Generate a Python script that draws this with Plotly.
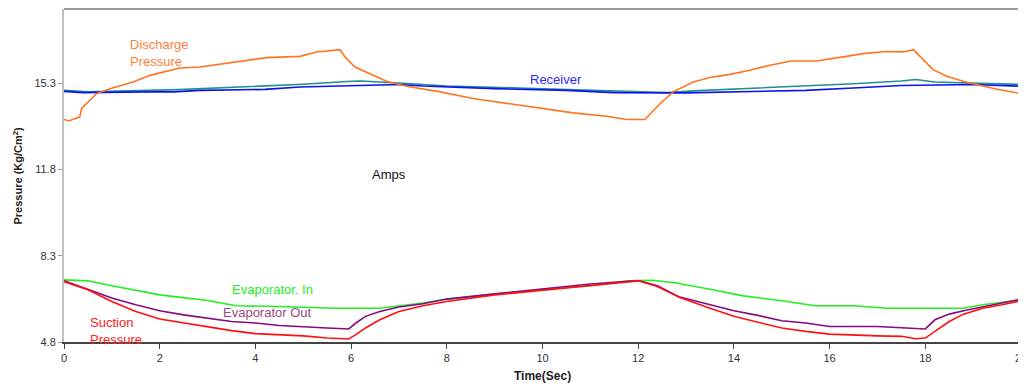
import plotly.graph_objects as go

# ---- data ----
t_discharge = [0, 0.1, 0.33, 0.37, 0.54, 0.68, 0.96, 1.44, 1.8, 2.42, 2.84, 3.54, 4.24, 4.93, 5.28, 5.77,
               5.87, 6.08, 6.39, 6.74, 7.16, 7.86, 8.55, 9.25, 9.95, 10.64, 11.34, 11.76, 12.14, 12.46,
               12.73, 13.15, 13.5, 13.92, 14.33, 14.75, 15.2, 15.72, 16.35, 16.7, 17.19, 17.54, 17.75,
               17.96, 18.16, 18.45, 18.79, 19.14, 19.5, 20]
discharge = [13.82, 13.76, 13.93, 14.28, 14.6, 14.87, 15.07, 15.34, 15.61, 15.91, 15.95, 16.15, 16.33,
             16.38, 16.56, 16.65, 16.36, 15.95, 15.68, 15.37, 15.17, 14.94, 14.67, 14.47, 14.27, 14.09,
             13.95, 13.82, 13.82, 14.47, 14.94, 15.34, 15.52, 15.65, 15.82, 16.02, 16.19, 16.19, 16.38,
             16.49, 16.58, 16.56, 16.65, 16.22, 15.84, 15.57, 15.37, 15.21, 15.05, 14.87]

t_receiver = [0, 0.4, 1.7, 2.3, 2.84, 4.2, 4.93, 5.98, 7.0, 7.5, 9.0, 10.5, 11.5, 13.0, 14.3, 15.5, 16.5,
              17.5, 19.0, 20]
receiver = [14.96, 14.91, 14.94, 14.94, 15.0, 15.04, 15.14, 15.2, 15.24, 15.18, 15.07, 15.0, 14.91, 14.9,
            14.94, 15.0, 15.1, 15.2, 15.24, 15.17]

t_teal = [0, 0.5, 2.4, 4.2, 5.0, 6.0, 6.2, 7.0, 8.0, 9.5, 11.5, 12.6, 13.15, 14.3, 15.2, 16.5, 17.5, 17.8,
          18.2, 19.3, 20]
teal = [15.0, 14.94, 15.03, 15.17, 15.25, 15.37, 15.38, 15.3, 15.18, 15.1, 14.98, 14.91, 14.98, 15.07,
        15.14, 15.27, 15.38, 15.44, 15.34, 15.27, 15.24]

t_evap_in = [0, 0.5, 1, 2, 3, 3.6, 4.5, 5.7, 6.6, 7, 7.5, 8, 9, 10, 11, 11.8, 12.3, 12.8, 13.5, 14.2, 15,
             15.7, 16.5, 17.2, 18, 18.8, 19.2, 19.5, 20]
evap_in = [7.32, 7.28, 7.08, 6.71, 6.48, 6.27, 6.24, 6.17, 6.17, 6.27, 6.38, 6.54, 6.74, 6.94, 7.08, 7.28,
           7.3, 7.19, 6.94, 6.67, 6.47, 6.27, 6.27, 6.17, 6.17, 6.17, 6.31, 6.38, 6.51]

t_evap_out = [0, 0.5, 1, 1.5, 2, 2.5, 3, 3.5, 4, 4.5, 5.5, 5.95, 6.1, 6.3, 6.6, 7, 7.5, 8, 9, 10, 11, 12,
              12.4, 12.87, 13.5, 14, 14.5, 15, 15.5, 16, 17, 17.8, 18, 18.2, 18.5, 18.8, 19.2, 19.6, 20]
evap_out = [7.28, 6.92, 6.58, 6.31, 6.07, 5.9, 5.77, 5.63, 5.57, 5.47, 5.37, 5.33, 5.57, 5.84, 6.04, 6.22,
            6.35, 6.54, 6.75, 6.94, 7.15, 7.29, 7.08, 6.62, 6.31, 6.07, 5.88, 5.66, 5.57, 5.43, 5.43, 5.37,
            5.33, 5.7, 5.93, 6.07, 6.24, 6.38, 6.54]

t_suction = [0, 0.5, 1, 1.5, 2, 2.5, 3, 3.5, 4, 4.5, 5, 5.5, 5.95, 6.1, 6.3, 6.6, 7, 7.5, 8, 9, 10, 11, 12,
             12.4, 12.87, 13.5, 14, 14.5, 15, 15.5, 16, 17, 17.5, 17.8, 18, 18.2, 18.5, 18.8, 19.2, 19.6, 20]
suction = [7.25, 6.92, 6.44, 6.04, 5.73, 5.57, 5.39, 5.26, 5.14, 5.1, 5.05, 4.96, 4.92, 5.1, 5.37, 5.7,
           6.04, 6.27, 6.44, 6.71, 6.89, 7.08, 7.28, 7.05, 6.6, 6.17, 5.84, 5.6, 5.37, 5.23, 5.12, 5.05,
           5.03, 4.93, 4.96, 5.23, 5.63, 5.93, 6.17, 6.31, 6.47]

y_ticks = [4.8, 8.3, 11.8, 15.3]
x_ticks = [0, 2, 4, 6, 8, 10, 12, 14, 16, 18, 20]

FONT = "Liberation Sans, Arial, sans-serif"

fig = go.Figure()
series = [
    (t_teal, teal, "#1f8f8f", "Receiver 2"),
    (t_receiver, receiver, "#1010f0", "Receiver"),
    (t_discharge, discharge, "#ff7420", "Discharge Pressure"),
    (t_evap_in, evap_in, "#22ee22", "Evaporator. In"),
    (t_evap_out, evap_out, "#850a85", "Evaporator Out"),
    (t_suction, suction, "#ff1010", "Suction Pressure"),
]
for tx, vy, col, nm in series:
    fig.add_trace(go.Scatter(x=tx, y=vy, mode="lines", name=nm,
                             line=dict(color=col, width=1.6), showlegend=False,
                             hoverinfo="skip"))

ann_font = dict(family=FONT, size=13)
annotations = [
    (1.33, 16.5, "Discharge<br>Pressure", "#ff7f3a"),
    (9.70, 15.45, "Receiver", "#2a2aff"),
    (6.39, 11.61, "Amps", "#111111"),
    (3.47, 6.92, "Evaporator. In", "#22ee22"),
    (3.28, 5.99, "Evaporator Out", "#9c4a80"),
    (0.50, 5.26, "Suction<br>Pressure", "#ff2020"),
]
for ax_, ay_, txt, col in annotations:
    fig.add_annotation(x=ax_, y=ay_, xref="x", yref="y", text=txt, showarrow=False,
                       xanchor="left", yanchor="middle", align="left",
                       font=dict(ann_font, color=col))

# axis titles as paper annotations
fig.add_annotation(x=0.5, y=0, xref="paper", yref="paper", yshift=-34, text="<b>Time(Sec)</b>",
                   showarrow=False, xanchor="center", yanchor="middle",
                   font=dict(family=FONT, size=12, color="#222222"))
fig.add_annotation(x=0, y=0.5, xref="paper", yref="paper", xshift=-47, text="<b>Pressure (Kg/Cm<sup>2</sup>)</b>",
                   showarrow=False, textangle=-90, xanchor="center", yanchor="middle",
                   font=dict(family=FONT, size=11, color="#222222"))

# top and right border
fig.add_shape(type="line", xref="paper", yref="paper", x0=0, x1=1, y0=1, y1=1,
              line=dict(color="#999999", width=2))
fig.add_shape(type="line", xref="paper", yref="paper", x0=1, x1=1, y0=0, y1=1,
              line=dict(color="#999999", width=2))

# the page body adds an 8px offset, so the figure is sized to fit the window from there
fig.update_layout(
    width=1018, height=376,
    margin=dict(l=56, r=5, t=1, b=42, autoexpand=False),
    paper_bgcolor="white", plot_bgcolor="white",
    font=dict(family=FONT, size=11, color="#333333"),
    xaxis=dict(range=[0, 20], tickvals=x_ticks, ticktext=[str(v) for v in x_ticks],
               automargin=False, ticklabeloverflow="allow",
               showgrid=False, zeroline=False, showline=True, linecolor="#444444", linewidth=2,
               ticks="outside", ticklen=5, tickcolor="#444444", tickwidth=1,
               tickfont=dict(family=FONT, size=11, color="#333333")),
    yaxis=dict(range=[4.8, 18.3], tickvals=y_ticks, ticktext=[f"{v:.1f}" for v in y_ticks],
               automargin=False, ticklabeloverflow="allow",
               showgrid=False, zeroline=False, showline=True, linecolor="#c0c0c0", linewidth=2,
               ticks="outside", ticklen=4, tickcolor="#999999", tickwidth=1,
               tickfont=dict(family=FONT, size=11, color="#333333")),
)

fig.write_html("out.html")
